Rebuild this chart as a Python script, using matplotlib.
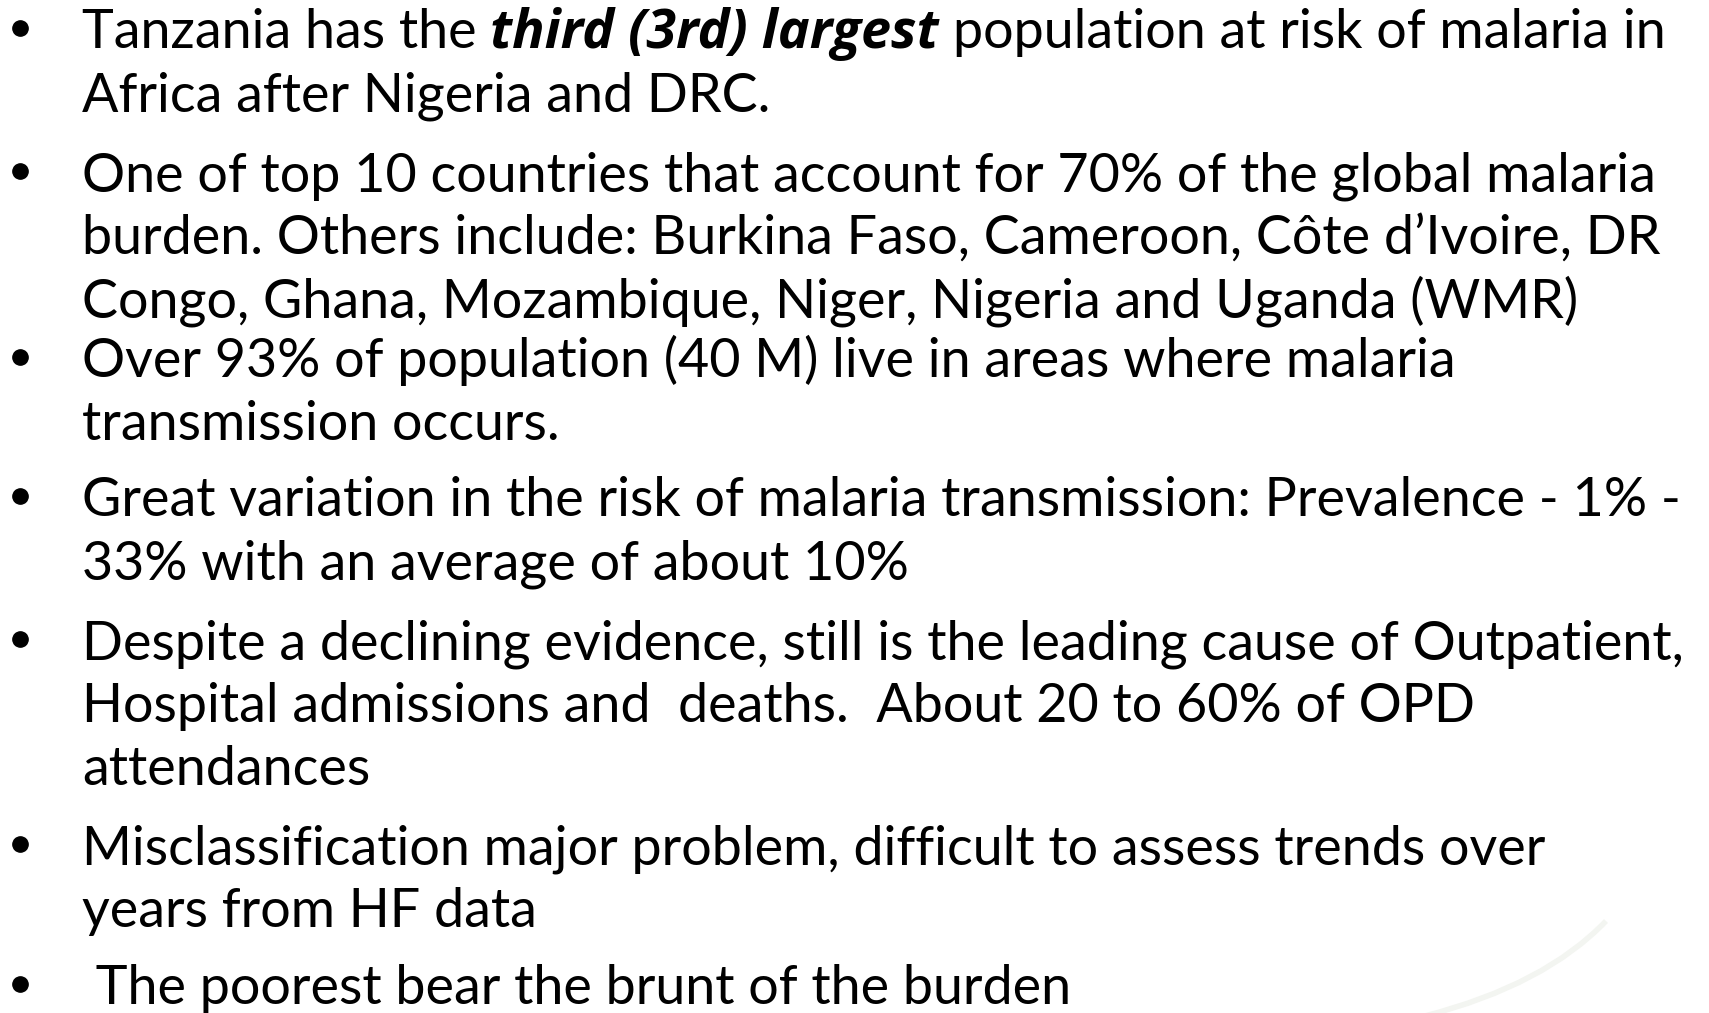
import matplotlib
matplotlib.use("Agg")
import matplotlib.pyplot as plt
from matplotlib.path import Path
from matplotlib.patches import PathPatch

# slide text: each paragraph is a list of lines, each line a list of (text, style)
para1 = [[("Tanzania has the", "n"), ("third (3rd) largest", "bi"),
          ("population at risk of malaria in", "n")],
         [("Africa after Nigeria and DRC.", "n")]]
para2 = [[("One of top 10 countries that account for 70% of the global malaria", "n")],
         [("burden. Others include: Burkina Faso, Cameroon, Côte d\u2019Ivoire, DR", "n")],
         [("Congo, Ghana, Mozambique, Niger, Nigeria and Uganda (WMR)", "n")]]
para3 = [[("Over 93% of population (40 M) live in areas where malaria", "n")],
         [("transmission occurs.", "n")]]
para4 = [[("Great variation in the risk of malaria transmission: Prevalence - 1% -", "n")],
         [("33% with an average of about 10%", "n")]]
para5 = [[("Despite a declining evidence, still is the leading cause of Outpatient,", "n")],
         [("Hospital admissions and  deaths.  About 20 to 60% of OPD", "n")],
         [("attendances", "n")]]
para6 = [[("Misclassification major problem, difficult to assess trends over", "n")],
         [("years from HF data", "n")]]
para7 = [[(" The poorest bear the brunt of the burden", "n")]]
paragraphs = [para1, para2, para3, para4, para5, para6, para7]

W, H = 1709, 1013
fig = plt.figure(figsize=(W / 100, H / 100), dpi=100)
ax = fig.add_axes([0, 0, 1, 1])
ax.set_xlim(0, W)
ax.set_ylim(H, 0)
ax.axis("off")
fig.patch.set_facecolor("white")

fam = ["Lato", "DejaVu Sans"]
fam_bi = ["Open Sans", "Lato", "DejaVu Sans"]
renderer = fig.canvas.get_renderer()


def style_kw(style):
    if style == "bi":
        return dict(family=fam_bi, fontweight="bold", fontstyle="italic")
    return dict(family=fam, fontweight="normal", fontstyle="normal")


def width(s, size, style="n"):
    t = ax.text(0, 0, s, fontsize=size, **style_kw(style))
    w = t.get_window_extent(renderer).width
    t.remove()
    return w


# fit font size so the longest line spans like the slide
probe = width(para5[0][0][0], 20)
fs = 20 * 1610 / probe
space = width("a a", fs) - width("aa", fs)

x_text, x_bullet = 82, 20
pitch = 63
gaps = [80, 60, 76, 80, 79, 77]
y = 48
for pi, para in enumerate(paragraphs):
    if pi > 0:
        y += gaps[pi - 1]
    ax.plot(x_bullet, y - 20, "o", color="black", markersize=11)
    for li, line in enumerate(para):
        if li > 0:
            y += pitch
        x = x_text
        for si, (s, st) in enumerate(line):
            if si > 0:
                x += space
            ax.text(x, y, s, fontsize=fs, va="baseline", ha="left", **style_kw(st))
            x += width(s, fs, st)

# faint decorative swoosh at the bottom right
swoosh = Path([(1425, 1016), (1545, 985), (1606, 921)],
              [Path.MOVETO, Path.CURVE3, Path.CURVE3])
ax.add_patch(PathPatch(swoosh, facecolor="none", edgecolor="#f3f5f1", lw=4))

fig.savefig("out.png", dpi=100, facecolor="white")
